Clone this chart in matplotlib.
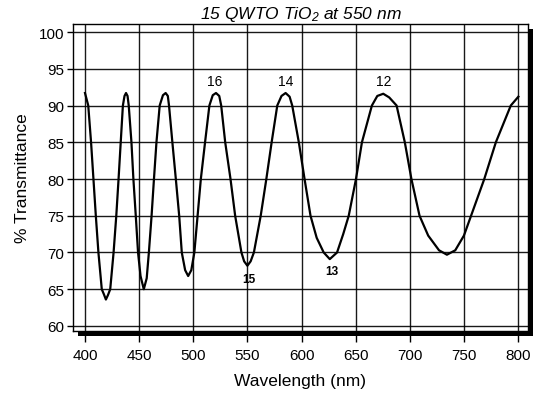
import matplotlib
matplotlib.use("Agg")
import matplotlib.pyplot as plt
from matplotlib.patches import Rectangle

# transmittance curve (nm, %T)
wavelength = [
    400, 403, 405.6, 407.8, 410, 412.4, 415.5, 417.5, 419.3, 421.2, 423.3, 426.4,
    428.9, 431, 433, 435, 436.5, 437.9, 439.3, 440.4, 442.9, 444.7, 446.9, 449,
    451.3, 454.3, 457, 459, 461.5, 463.7, 466, 469, 472, 474.5, 476.5, 477.6,
    480.7, 483.9, 487, 489.4, 492.5, 495.3, 498.2, 501, 504, 507, 510.9, 514.9,
    518, 521, 524, 525.8, 529.5, 534.4, 538.7, 544.5, 547, 550, 553, 556,
    562.3, 567.5, 572.4, 577.6, 581.5, 585.3, 589, 591.4, 597.5, 602.8, 608.3,
    614, 620.5, 626.1, 632.8, 638.5, 643.6, 650.3, 655.8, 665, 670, 675.5,
    681, 687.8, 695.4, 701.5, 709, 717, 727, 734.3, 742, 750, 756.6, 768.8,
    779.5, 793.3, 800.3,
]
transmittance = [
    91.7, 90, 85, 80, 75, 70, 65, 64.3, 63.6, 64.2, 65, 70,
    75, 80, 85, 90, 91.3, 91.7, 91.3, 90, 85, 80, 75, 70,
    66.8, 65.0, 66.5, 70, 75, 80, 85, 90, 91.4, 91.7, 91.3, 90,
    85, 80, 75, 70, 67.6, 66.8, 67.6, 70, 75, 80, 85, 90,
    91.4, 91.7, 91.3, 90, 85, 80, 75, 70, 68.8, 68.2, 68.8, 70,
    75, 80, 85, 90, 91.3, 91.7, 91.2, 90, 85, 80, 75,
    72, 70, 69.1, 70, 72.5, 75, 80, 85, 90, 91.3, 91.6,
    91.1, 90, 85, 80, 75, 72.3, 70.3, 69.7, 70.3, 72.3, 75, 80,
    85, 90, 91.2,
]

# order labels
peak_names = ["16", "14", "12"]
peak_wl = [520, 585, 675.5]
peak_t = [93.4, 93.4, 93.4]
valley_names = ["15", "13"]
valley_wl = [551.5, 628]
valley_t = [66.4, 67.5]

x_ticks = list(range(400, 801, 50))
y_ticks = list(range(60, 101, 5))

plt.rcParams["font.family"] = ["Liberation Sans", "DejaVu Sans"]
plt.rcParams["mathtext.fontset"] = "custom"
plt.rcParams["mathtext.rm"] = "Liberation Sans:italic"
plt.rcParams["mathtext.it"] = "Liberation Sans:italic"

fig = plt.figure(figsize=(5.43, 4.06), dpi=100)
ax = fig.add_axes([0.1344, 0.1823, 0.838, 0.7561])

# drop shadow to the right and below the frame
fig.patches.append(Rectangle((78 / 543, 1 - 337 / 406), 455 / 543, 307 / 406,
                             transform=fig.transFigure, facecolor="black",
                             edgecolor="none", zorder=-1))
ax.set_facecolor("white")

ax.plot(wavelength, transmittance, color="black", linewidth=1.6, zorder=3)

for name, x, y in zip(peak_names, peak_wl, peak_t):
    ax.text(x, y, name, ha="center", va="center", fontsize=10)
for name, x, y in zip(valley_names, valley_wl, valley_t):
    ax.text(x, y, name, ha="center", va="center", fontsize=8.5, fontweight="bold")

ax.set_xlim(388.9, 809.2)
ax.set_ylim(59.32, 101.09)
ax.set_xticks(x_ticks)
ax.set_yticks(y_ticks)
ax.tick_params(axis="both", direction="out", labelsize=11, width=1, color="black")
ax.tick_params(axis="x", length=8, pad=4)
ax.tick_params(axis="y", length=4.5, pad=2)
ax.grid(True, color="black", linewidth=1.0, alpha=0.9)
for s in ax.spines.values():
    s.set_linewidth(1.0)

ax.set_xlabel("Wavelength (nm)", fontsize=12.5, labelpad=8)
ax.set_ylabel("% Transmittance", fontsize=12.5, labelpad=6)
ax.set_title(r"15 QWTO TiO$_2$ at 550 nm", fontsize=12.5, style="italic", pad=4)

fig.savefig("out.png", dpi=100)
plt.close(fig)
